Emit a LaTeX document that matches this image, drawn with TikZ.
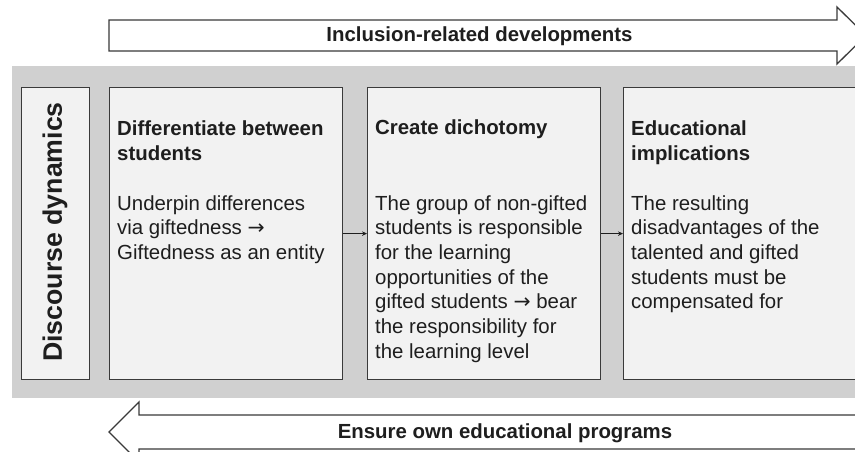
\documentclass[tikz,border=0pt]{standalone}
\usepackage{fontspec}
\setmainfont{Liberation Sans}
\newfontfamily\arrowfont{DejaVu Sans}
\newcommand{\rarr}{{\arrowfont →}}
\usetikzlibrary{arrows.meta}
\definecolor{band}{HTML}{D0D0D0}
\definecolor{boxfill}{HTML}{F2F2F2}
\definecolor{edge}{HTML}{3A3A3A}
\definecolor{ink}{HTML}{1E1E1E}
\tikzset{
  bigarrow/.style={draw=edge, fill=white, line width=1.3pt, line join=miter},
  panel/.style={draw=edge, fill=boxfill, line width=1.2pt, anchor=north west, inner sep=0pt, minimum height=292pt},
  link/.style={draw=ink, line width=1.1pt, -{Stealth[length=5pt,width=4.5pt]}},
  titletext/.style={font=\fontsize{20.4}{25.3}\selectfont\bfseries, align=left, inner sep=0pt, text=ink, anchor=base west},
  bodytext/.style={font=\fontsize{20.4}{24.7}\selectfont, align=left, inner sep=0pt, text=ink, anchor=base west},
  arrowlabel/.style={font=\fontsize{20.4}{24}\selectfont\bfseries, inner sep=0pt, text=ink, anchor=base},
}
\begin{document}
\begin{tikzpicture}[x=1pt,y=-1pt]
\clip (0,0) rectangle (855,452);
\fill[white] (0,0) rectangle (855,452);
% top arrow
\draw[bigarrow] (109,20) -- (837,20) -- (837,7) -- (866,35.5) -- (837,64) -- (837,51) -- (109,51) -- cycle;
\node[arrowlabel] (toplabel) at (479.5,42) {Inclusion-related developments};
% gray band
\fill[band] (12,66) rectangle (860,398);
% panels
\node[panel, minimum width=68pt] (dd) at (21,87) {};
\node[panel, minimum width=233pt] (b1) at (109,87) {};
\node[panel, minimum width=233pt] (b2) at (367,87) {};
\node[panel, minimum width=234pt] (b3) at (623,87) {};
\node[font=\fontsize{26.7}{30}\selectfont\bfseries, rotate=90, text=ink, inner sep=0pt] (ddlabel) at (55,232) {Discourse dynamics};
% texts (base anchor = baseline of last line)
\node[titletext] (t1) at (117,160.3) {Differentiate between\\students};
\node[bodytext] (x1) at (117,259.4) {Underpin differences\\via giftedness \rarr\\Giftedness as an entity};
\node[titletext] (t2) at (375,135) {Create dichotomy};
\node[bodytext] (x2) at (375,358.2) {The group of non-gifted\\students is responsible\\for the learning\\opportunities of the\\gifted students \rarr{} bear\\the responsibility for\\the learning level};
\node[titletext] (t3) at (631,160.3) {Educational\\implications};
\node[bodytext] (x3) at (631,308.8) {The resulting\\disadvantages of the\\talented and gifted\\students must be\\compensated for};
% connectors
\draw[link] (b1.east) -- (b2.west);
\draw[link] (b2.east) -- (b3.west);
% bottom arrow
\draw[bigarrow] (880,415) -- (139,415) -- (139,402) -- (109,432) -- (139,462) -- (139,449) -- (880,449) -- cycle;
\node[arrowlabel] (botlabel) at (505,438) {Ensure own educational programs};
\end{tikzpicture}
\end{document}
